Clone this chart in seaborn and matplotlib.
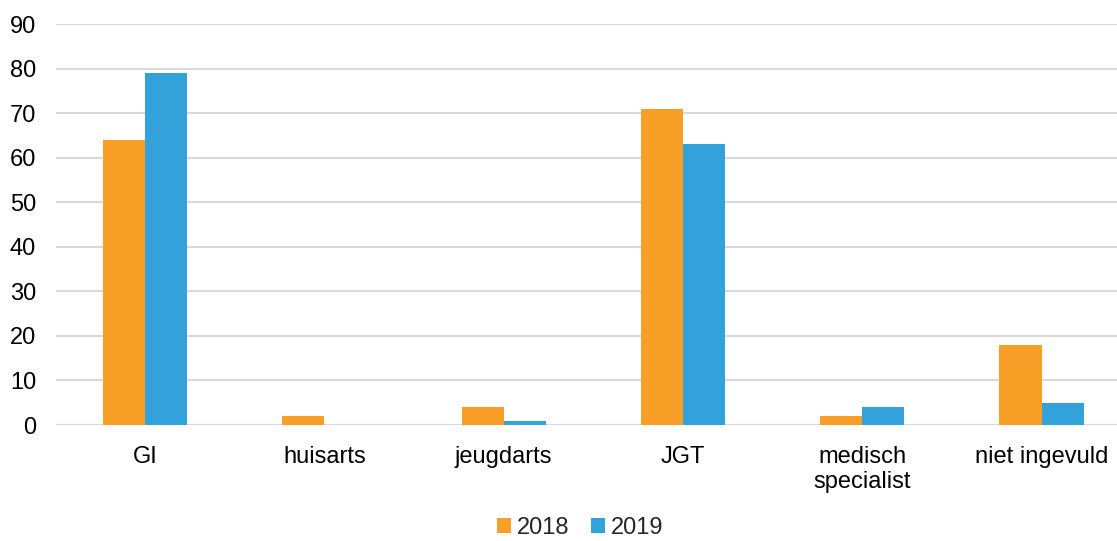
import pandas as pd
import matplotlib.pyplot as plt
import seaborn as sns

categories = ['GI', 'huisarts', 'jeugdarts', 'JGT', 'medisch\nspecialist', 'niet ingevuld']
values_2018 = [64, 2, 4, 71, 2, 18]
values_2019 = [79, 0, 1, 63, 4, 5]
years = ['2018', '2019']

df = pd.DataFrame({
    'categorie': categories * 2,
    'aantal': values_2018 + values_2019,
    'jaar': [years[0]] * len(categories) + [years[1]] * len(categories),
})

sns.set_style('white')
plt.rcParams['font.family'] = ['Liberation Sans', 'DejaVu Sans']

fig = plt.figure(figsize=(11.17, 5.41), dpi=100)
# plot area runs slightly past the right edge, like the original
ax = fig.add_axes([0.0497, 0.2144, 0.963, 0.7412])

sns.barplot(data=df, x='categorie', y='aantal', hue='jaar',
            palette=['#F79F27', '#33A2DA'], width=0.47, gap=0,
            saturation=1, linewidth=0, ax=ax)

ax.set_ylim(0, 90)
ax.set_xlim(-0.5, len(categories) - 0.5)
ax.set_yticks(range(0, 91, 10))
ax.yaxis.grid(True, color='#D9D9D9', linewidth=1.5)
ax.set_axisbelow(True)
for s in ax.spines.values():
    s.set_visible(False)
ax.axhline(0, color='#D9D9D9', linewidth=1.5, zorder=0)
ax.tick_params(axis='both', length=0, labelsize=17, colors='#000000')
ax.tick_params(axis='x', pad=15)
ax.tick_params(axis='y', pad=14)
ax.set_xlabel('')
ax.set_ylabel('')

ax.legend(loc='lower center', bbox_to_anchor=(0.488, -0.325), ncol=2, frameon=False,
          fontsize=17, handlelength=0.6, handleheight=0.6, handletextpad=0.25,
          columnspacing=0.9, borderpad=0.2)

fig.savefig('out.png', dpi=100)
